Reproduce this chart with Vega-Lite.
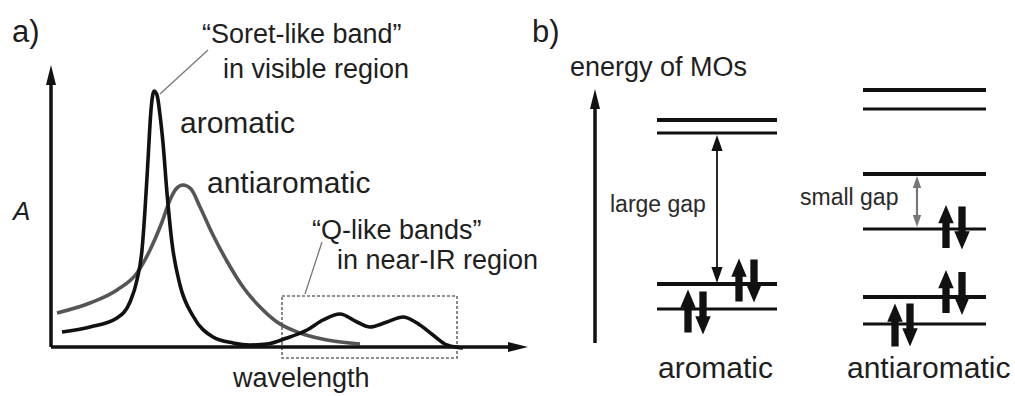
{
  "$schema": "https://vega.github.io/schema/vega-lite/v6.json",
  "width": 1015,
  "height": 396,
  "padding": 0,
  "autosize": {"type": "fit", "contains": "padding"},
  "background": "white",
  "config": {"view": {"stroke": null}, "font": "Liberation Sans"},
  "datasets": {
    "curves": [
      {"series": "aromatic", "x": 62, "y": 332}, {"series": "aromatic", "x": 90, "y": 327}, {"series": "aromatic", "x": 117, "y": 318},
      {"series": "aromatic", "x": 130, "y": 302}, {"series": "aromatic", "x": 137, "y": 280}, {"series": "aromatic", "x": 142, "y": 250},
      {"series": "aromatic", "x": 145, "y": 210}, {"series": "aromatic", "x": 148, "y": 160}, {"series": "aromatic", "x": 151, "y": 110},
      {"series": "aromatic", "x": 154, "y": 91}, {"series": "aromatic", "x": 157, "y": 95}, {"series": "aromatic", "x": 160, "y": 115},
      {"series": "aromatic", "x": 163, "y": 143}, {"series": "aromatic", "x": 167, "y": 193}, {"series": "aromatic", "x": 172, "y": 243},
      {"series": "aromatic", "x": 180, "y": 285}, {"series": "aromatic", "x": 193, "y": 316}, {"series": "aromatic", "x": 213, "y": 337},
      {"series": "aromatic", "x": 233, "y": 343}, {"series": "aromatic", "x": 250, "y": 345}, {"series": "aromatic", "x": 267, "y": 344},
      {"series": "aromatic", "x": 287, "y": 338}, {"series": "aromatic", "x": 307, "y": 330}, {"series": "aromatic", "x": 323, "y": 320},
      {"series": "aromatic", "x": 340, "y": 314}, {"series": "aromatic", "x": 357, "y": 322}, {"series": "aromatic", "x": 370, "y": 327},
      {"series": "aromatic", "x": 387, "y": 322}, {"series": "aromatic", "x": 403, "y": 317}, {"series": "aromatic", "x": 417, "y": 323},
      {"series": "aromatic", "x": 433, "y": 335}, {"series": "aromatic", "x": 447, "y": 345}, {"series": "aromatic", "x": 463, "y": 348},
      {"series": "antiaromatic", "x": 57, "y": 313}, {"series": "antiaromatic", "x": 90, "y": 303}, {"series": "antiaromatic", "x": 117, "y": 290},
      {"series": "antiaromatic", "x": 137, "y": 273}, {"series": "antiaromatic", "x": 150, "y": 250}, {"series": "antiaromatic", "x": 162, "y": 222},
      {"series": "antiaromatic", "x": 170, "y": 200}, {"series": "antiaromatic", "x": 176, "y": 189}, {"series": "antiaromatic", "x": 183, "y": 185},
      {"series": "antiaromatic", "x": 191, "y": 189}, {"series": "antiaromatic", "x": 200, "y": 207}, {"series": "antiaromatic", "x": 213, "y": 235},
      {"series": "antiaromatic", "x": 228, "y": 263}, {"series": "antiaromatic", "x": 243, "y": 287}, {"series": "antiaromatic", "x": 260, "y": 307},
      {"series": "antiaromatic", "x": 277, "y": 322}, {"series": "antiaromatic", "x": 300, "y": 333}, {"series": "antiaromatic", "x": 327, "y": 340},
      {"series": "antiaromatic", "x": 360, "y": 344}
    ],
    "segments": [
      {"kind": "axis", "x": 51, "y": 347, "x2": 51, "y2": 80},
      {"kind": "axis", "x": 51, "y": 347, "x2": 515, "y2": 347},
      {"kind": "axis", "x": 595, "y": 343, "x2": 595, "y2": 100},
      {"kind": "level", "x": 657, "y": 120, "x2": 777, "y2": 120},
      {"kind": "level", "x": 657, "y": 284, "x2": 777, "y2": 284},
      {"kind": "level", "x": 863, "y": 90, "x2": 986, "y2": 90},
      {"kind": "level", "x": 863, "y": 174, "x2": 986, "y2": 174},
      {"kind": "level", "x": 863, "y": 297, "x2": 986, "y2": 297},
      {"kind": "thin", "x": 657, "y": 133, "x2": 777, "y2": 133},
      {"kind": "thin", "x": 657, "y": 309, "x2": 777, "y2": 309},
      {"kind": "thin", "x": 863, "y": 109, "x2": 986, "y2": 109},
      {"kind": "thin", "x": 863, "y": 229, "x2": 986, "y2": 229},
      {"kind": "thin", "x": 863, "y": 324, "x2": 986, "y2": 324},
      {"kind": "leader", "x": 160, "y": 94, "x2": 208, "y2": 50},
      {"kind": "leader", "x": 322, "y": 242, "x2": 305, "y2": 294},
      {"kind": "gap", "x": 717, "y": 148, "x2": 717, "y2": 270},
      {"kind": "gapgray", "x": 917, "y": 185, "x2": 917, "y2": 218}
    ],
    "boxes": [{"x": 282, "y": 296, "x2": 457, "y2": 358}],
    "heads": [
      {"kind": "axis", "x": 51, "y": 75, "dir": "up"},
      {"kind": "axis", "x": 518, "y": 347, "dir": "right"},
      {"kind": "axis", "x": 595, "y": 99, "dir": "up"},
      {"kind": "gap", "x": 717, "y": 143, "dir": "gup"},
      {"kind": "gap", "x": 717, "y": 275, "dir": "gdown"},
      {"kind": "gapgray", "x": 917, "y": 182, "dir": "gup"},
      {"kind": "gapgray", "x": 917, "y": 221, "dir": "gdown"},
      {"kind": "electron", "x": 739, "y": 280, "dir": "eup"},
      {"kind": "electron", "x": 754, "y": 281, "dir": "edown"},
      {"kind": "electron", "x": 688, "y": 311, "dir": "eup"},
      {"kind": "electron", "x": 703, "y": 313, "dir": "edown"},
      {"kind": "electron", "x": 946, "y": 226.5, "dir": "eup"},
      {"kind": "electron", "x": 962, "y": 228, "dir": "edown"},
      {"kind": "electron", "x": 946, "y": 291.5, "dir": "eup"},
      {"kind": "electron", "x": 962, "y": 293.5, "dir": "edown"},
      {"kind": "electron", "x": 895, "y": 325, "dir": "eup"},
      {"kind": "electron", "x": 910, "y": 325, "dir": "edown"}
    ],
    "texts": [
      {"style": "panel", "x": 12, "y": 42, "text": "a)"},
      {"style": "panel", "x": 532, "y": 42, "text": "b)"},
      {"style": "note", "x": 202, "y": 43, "text": "“Soret-like band”"},
      {"style": "note", "x": 223, "y": 78, "text": "in visible region"},
      {"style": "label", "x": 180, "y": 133, "text": "aromatic"},
      {"style": "label", "x": 207, "y": 193, "text": "antiaromatic"},
      {"style": "italic", "x": 13, "y": 220, "text": "A"},
      {"style": "note", "x": 312, "y": 239, "text": "“Q-like bands”"},
      {"style": "note", "x": 337, "y": 269, "text": "in near-IR region"},
      {"style": "note", "x": 233, "y": 387, "text": "wavelength"},
      {"style": "note", "x": 570, "y": 76, "text": "energy of MOs"},
      {"style": "gaptext", "x": 610, "y": 212, "text": "large gap"},
      {"style": "gaptext", "x": 800, "y": 205, "text": "small gap"},
      {"style": "label", "x": 658, "y": 378, "text": "aromatic"},
      {"style": "label", "x": 847, "y": 378, "text": "antiaromatic"}
    ]
  },
  "encoding": {
    "x": {"field": "x", "type": "quantitative", "scale": {"domain": [0, 1015], "nice": false, "zero": false}, "axis": null},
    "y": {"field": "y", "type": "quantitative", "scale": {"domain": [0, 396], "nice": false, "zero": false, "reverse": true}, "axis": null}
  },
  "layer": [
    {
      "data": {"name": "boxes"},
      "mark": {"type": "rect", "filled": false, "stroke": "#6a6a6a", "strokeWidth": 1.6, "strokeDash": [3, 2]},
      "encoding": {"x2": {"field": "x2"}, "y2": {"field": "y2"}}
    },
    {
      "data": {"name": "curves"},
      "transform": [{"filter": "datum.series === 'antiaromatic'"}],
      "mark": {"type": "line", "interpolate": "monotone", "stroke": "#555555", "strokeWidth": 3.6}
    },
    {
      "data": {"name": "curves"},
      "transform": [{"filter": "datum.series === 'aromatic'"}],
      "mark": {"type": "line", "interpolate": "monotone", "stroke": "#111111", "strokeWidth": 3.6}
    },
    {
      "data": {"name": "segments"},
      "transform": [{"filter": "datum.kind === 'axis'"}],
      "mark": {"type": "rule", "stroke": "#111111", "strokeWidth": 3.5},
      "encoding": {"x2": {"field": "x2"}, "y2": {"field": "y2"}}
    },
    {
      "data": {"name": "segments"},
      "transform": [{"filter": "datum.kind === 'level'"}],
      "mark": {"type": "rule", "stroke": "#111111", "strokeWidth": 4},
      "encoding": {"x2": {"field": "x2"}, "y2": {"field": "y2"}}
    },
    {
      "data": {"name": "segments"},
      "transform": [{"filter": "datum.kind === 'thin'"}],
      "mark": {"type": "rule", "stroke": "#111111", "strokeWidth": 3},
      "encoding": {"x2": {"field": "x2"}, "y2": {"field": "y2"}}
    },
    {
      "data": {"name": "segments"},
      "transform": [{"filter": "datum.kind === 'leader'"}],
      "mark": {"type": "rule", "stroke": "#777777", "strokeWidth": 1.3},
      "encoding": {"x2": {"field": "x2"}, "y2": {"field": "y2"}}
    },
    {
      "data": {"name": "segments"},
      "transform": [{"filter": "datum.kind === 'gap'"}],
      "mark": {"type": "rule", "stroke": "#111111", "strokeWidth": 1.8},
      "encoding": {"x2": {"field": "x2"}, "y2": {"field": "y2"}}
    },
    {
      "data": {"name": "segments"},
      "transform": [{"filter": "datum.kind === 'gapgray'"}],
      "mark": {"type": "rule", "stroke": "#777777", "strokeWidth": 2.2},
      "encoding": {"x2": {"field": "x2"}, "y2": {"field": "y2"}}
    },
    {
      "data": {"name": "heads"},
      "transform": [{"filter": "datum.kind === 'axis'"}],
      "mark": {"type": "point", "filled": true, "color": "#111111", "opacity": 1, "size": 400},
      "encoding": {
        "shape": {"field": "dir", "type": "nominal", "legend": null,
          "scale": {"domain": ["up", "right", "gup", "gdown", "eup", "edown"],
            "range": ["M0,-1L0.5,1L-0.5,1Z", "M1,0L-1,0.5L-1,-0.5Z", "M0,-1L0.7,1L-0.7,1Z", "M0,1L0.7,-1L-0.7,-1Z",
              "M-0.17,1L-0.17,-0.15L-0.36,-0.15L0,-1L0.36,-0.15L0.17,-0.15L0.17,1Z",
              "M-0.17,-1L-0.17,0.15L-0.36,0.15L0,1L0.36,0.15L0.17,0.15L0.17,-1Z"]}}
      }
    },
    {
      "data": {"name": "heads"},
      "transform": [{"filter": "datum.kind === 'gap'"}],
      "mark": {"type": "point", "filled": true, "color": "#111111", "opacity": 1, "size": 256},
      "encoding": {"shape": {"field": "dir", "type": "nominal", "legend": null}}
    },
    {
      "data": {"name": "heads"},
      "transform": [{"filter": "datum.kind === 'gapgray'"}],
      "mark": {"type": "point", "filled": true, "color": "#777777", "opacity": 1, "size": 144},
      "encoding": {"shape": {"field": "dir", "type": "nominal", "legend": null}}
    },
    {
      "data": {"name": "heads"},
      "transform": [{"filter": "datum.kind === 'electron'"}],
      "mark": {"type": "point", "filled": true, "color": "#111111", "opacity": 1, "size": 1849},
      "encoding": {"shape": {"field": "dir", "type": "nominal", "legend": null}}
    },
    {
      "data": {"name": "texts"},
      "transform": [{"filter": "datum.style === 'panel'"}],
      "mark": {"type": "text", "align": "left", "baseline": "alphabetic", "fontSize": 31, "color": "#1e1e1e"},
      "encoding": {"text": {"field": "text"}}
    },
    {
      "data": {"name": "texts"},
      "transform": [{"filter": "datum.style === 'note'"}],
      "mark": {"type": "text", "align": "left", "baseline": "alphabetic", "fontSize": 27, "color": "#1e1e1e"},
      "encoding": {"text": {"field": "text"}}
    },
    {
      "data": {"name": "texts"},
      "transform": [{"filter": "datum.style === 'label'"}],
      "mark": {"type": "text", "align": "left", "baseline": "alphabetic", "fontSize": 30, "color": "#1e1e1e"},
      "encoding": {"text": {"field": "text"}}
    },
    {
      "data": {"name": "texts"},
      "transform": [{"filter": "datum.style === 'italic'"}],
      "mark": {"type": "text", "align": "left", "baseline": "alphabetic", "fontSize": 26, "fontStyle": "italic", "color": "#1e1e1e"},
      "encoding": {"text": {"field": "text"}}
    },
    {
      "data": {"name": "texts"},
      "transform": [{"filter": "datum.style === 'gaptext'"}],
      "mark": {"type": "text", "align": "left", "baseline": "alphabetic", "fontSize": 23, "color": "#2a2a2a"},
      "encoding": {"text": {"field": "text"}}
    }
  ]
}
